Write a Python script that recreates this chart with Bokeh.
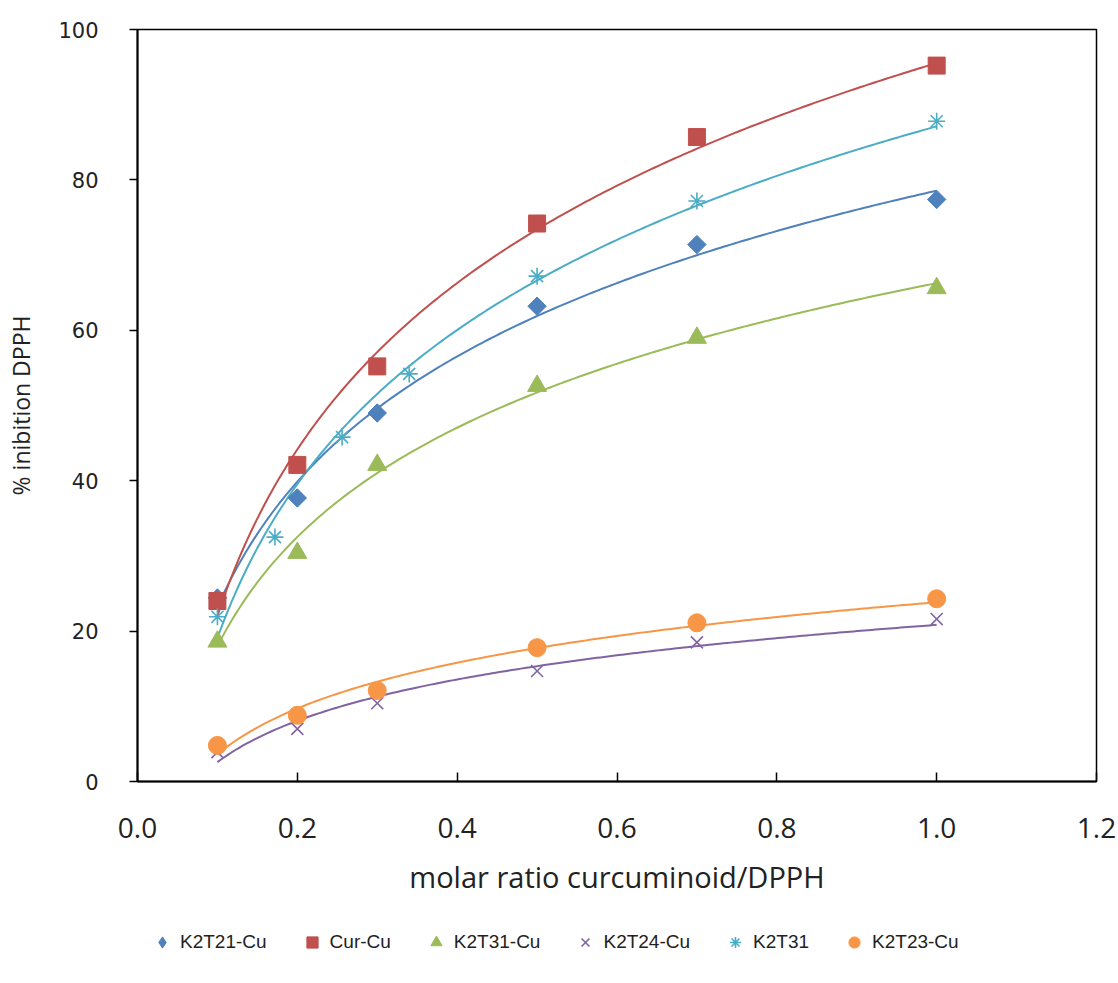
import numpy as np
from bokeh.plotting import figure
from bokeh.layouts import column
from bokeh.models import Range1d, FixedTicker, Legend, LegendItem
from bokeh.embed import file_html
from bokeh.resources import INLINE

# ---- data ----
x_std = [0.1, 0.2, 0.3, 0.5, 0.7, 1.0]
k2t21_cu = [24.4, 37.7, 49.0, 63.2, 71.4, 77.4]
cur_cu = [24.0, 42.1, 55.2, 74.2, 85.7, 95.2]
k2t31_cu = [18.6, 30.4, 42.1, 52.6, 59.0, 65.6]
k2t24_cu = [3.9, 7.0, 10.4, 14.7, 18.5, 21.6]
x_k2t31 = [0.1, 0.172, 0.256, 0.34, 0.5, 0.7, 1.0]
k2t31 = [21.9, 32.5, 45.8, 54.2, 67.2, 77.2, 87.8]
k2t23_cu = [4.8, 8.8, 12.1, 17.8, 21.1, 24.3]

names = ["K2T21-Cu", "Cur-Cu", "K2T31-Cu", "K2T24-Cu", "K2T31", "K2T23-Cu"]
xs_list = [x_std, x_std, x_std, x_std, x_k2t31, x_std]
ys_list = [k2t21_cu, cur_cu, k2t31_cu, k2t24_cu, k2t31, k2t23_cu]
colors = ["#4F81BD", "#C0504D", "#9BBB59", "#8064A2", "#4BACC6", "#F79646"]

x_ticks = [0.0, 0.2, 0.4, 0.6, 0.8, 1.0, 1.2]
x_tick_labels = ["0.0", "0.2", "0.4", "0.6", "0.8", "1.0", "1.2"]
y_ticks = [0, 20, 40, 60, 80, 100]

p = figure(width=1118, height=910, output_backend="svg", toolbar_location=None,
           x_range=Range1d(0, 1.2), y_range=Range1d(0, 100))
p.min_border_left = 137
p.min_border_right = 22
p.min_border_top = 29
p.min_border_bottom = 129
p.background_fill_color = "white"
p.border_fill_color = "white"
p.outline_line_color = "black"
p.outline_line_width = 1.5
p.grid.visible = False

# x axis
xa = p.xaxis[0]
xa.ticker = FixedTicker(ticks=x_ticks)
xa.major_label_overrides = {t: l for t, l in zip(x_ticks, x_tick_labels)}
xa.minor_tick_line_color = None
xa.major_tick_in = 9
xa.major_tick_out = 0
xa.axis_line_width = 2
xa.major_tick_line_width = 1.5
xa.major_label_text_font = "Open Sans"
xa.major_label_text_font_size = "28px"
xa.major_label_text_color = "#222222"
xa.major_label_standoff = 36
xa.axis_label = "molar ratio curcuminoid/DPPH"
xa.axis_label_text_font = "Open Sans"
xa.axis_label_text_font_size = "29px"
xa.axis_label_text_font_style = "normal"
xa.axis_label_text_color = "#222222"
xa.axis_label_standoff = 16

# y axis
ya = p.yaxis[0]
ya.ticker = FixedTicker(ticks=y_ticks)
ya.minor_tick_line_color = None
ya.major_tick_in = 0
ya.major_tick_out = 8
ya.axis_line_width = 2
ya.major_tick_line_width = 1.5
ya.major_label_text_font = "DejaVu Sans"
ya.major_label_text_font_size = "21px"
ya.major_label_text_color = "#222222"
ya.major_label_standoff = 31
ya.axis_label = "% inibition DPPH"
ya.axis_label_text_font = "Open Sans"
ya.axis_label_text_font_size = "23px"
ya.axis_label_text_font_style = "normal"
ya.axis_label_text_color = "#222222"
ya.axis_label_standoff = 18

# legend strip below the chart (same series styles; data lies outside its ranges)
pl = figure(width=1118, height=73, output_backend="svg", toolbar_location=None,
            x_range=Range1d(10, 11), y_range=Range1d(10, 11),
            x_axis_type=None, y_axis_type=None)
pl.min_border_left = 0
pl.min_border_right = 0
pl.min_border_top = 0
pl.min_border_bottom = 0
pl.outline_line_color = None
pl.grid.visible = False

# logarithmic trendlines (least-squares fit y = a ln x + b, like Excel)
xfit = np.linspace(0.1, 1.0, 200)
items = []
markers = ["square", "square", "triangle", "x", "asterisk", "circle"]
legend_markers = ["diamond", "square", "triangle", "x", "asterisk", "circle"]
sizes = [13, 17, 19, 17, 17, 18]
angles = [np.pi / 4, 0, 0, 0, 0, 0]
for xs, ys, c in zip(xs_list, ys_list, colors):
    coef = np.polyfit(np.log(xs), ys, 1)
    p.line(xfit, coef[0] * np.log(xfit) + coef[1], line_color=c, line_width=2)
for name, xs, ys, c, m, lm, s, a in zip(names, xs_list, ys_list, colors, markers,
                                        legend_markers, sizes, angles):
    if m in ("x", "asterisk"):
        p.scatter(xs, ys, marker=m, size=s, line_color=c, line_width=1.6, angle=a)
        r = pl.scatter(xs, ys, marker=lm, size=s, line_color=c, line_width=1.6)
    else:
        p.scatter(xs, ys, marker=m, size=s, fill_color=c, line_color=c, angle=a)
        r = pl.scatter(xs, ys, marker=lm, size=s, fill_color=c, line_color=c)
    items.append(LegendItem(label=name, renderers=[r]))

legend = Legend(items=items, orientation="horizontal", location=(10, 27))
legend.background_fill_alpha = 0
legend.border_line_color = None
legend.padding = 0
legend.margin = 0
legend.spacing = 30
legend.glyph_width = 30
legend.glyph_height = 28
legend.label_standoff = 3
legend.label_text_font = "Liberation Sans"
legend.label_text_font_size = "19px"
legend.label_text_color = "#222222"
pl.add_layout(legend, "center")

open("out.html", "w").write(file_html(column(p, pl), INLINE))
